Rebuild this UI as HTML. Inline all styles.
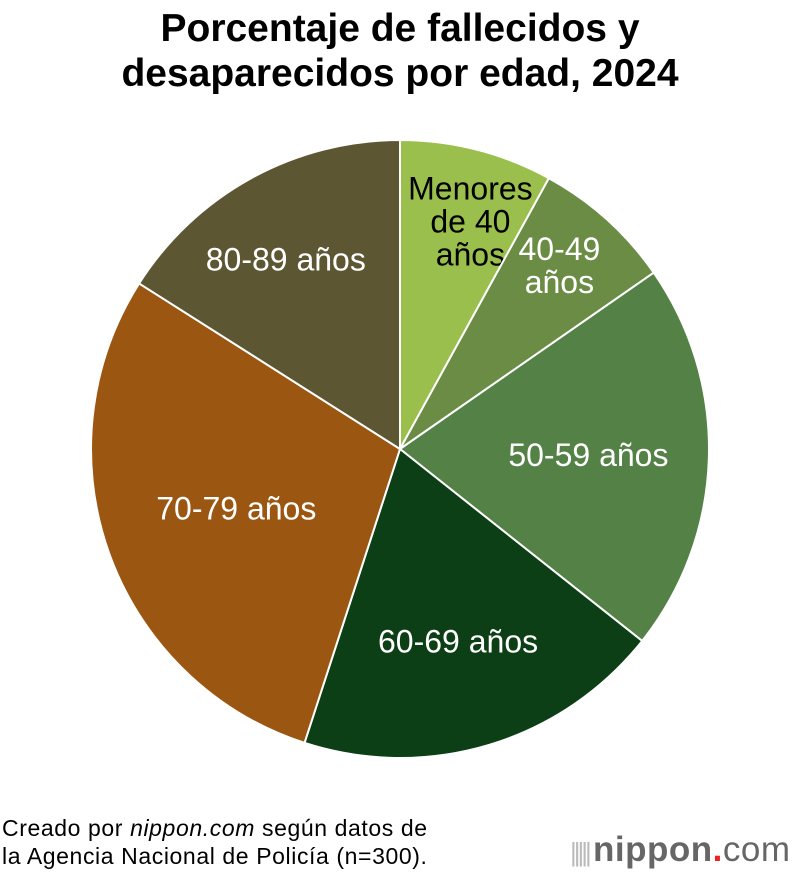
<!DOCTYPE html>
<html><head><meta charset="utf-8"><style>
body{margin:0;background:#fff;width:800px;height:872px;overflow:hidden;font-family:"Liberation Sans",sans-serif;position:relative}
#title{position:absolute;top:6px;left:0;width:800px;text-align:center;font-weight:bold;font-size:39px;line-height:45px;color:#000}
#src{position:absolute;left:2px;top:814px;font-size:23px;line-height:28px;color:#000;letter-spacing:0.6px}
#logo{position:absolute;left:570px;top:830px;font-size:35px;color:#666;font-weight:bold;letter-spacing:0.5px}
</style></head><body>
<div id="title">Porcentaje de fallecidos y<br>desaparecidos por edad, 2024</div>
<svg id="pie" width="800" height="872" style="position:absolute;left:0;top:0"></svg>
<div id="src">Creado por <i>nippon.com</i> según datos de<br>la Agencia Nacional de Policía (n=300).</div>
<div id="logo"><span style="font-weight:normal;color:#bbb;font-size:26px;letter-spacing:-3px">||||| </span>nippon<span style="color:#e22">.</span><span style="font-weight:normal">com</span></div>
<script>
const categories=["Menores de 40 años","40-49 años","50-59 años","60-69 años","70-79 años","80-89 años"];
const values=[24,22,61,58,87,48];
const colors=["#9bbf4c","#6a8c45","#548145","#0c3f15","#9b5611","#5c5633"];
const labelLines=[["Menores","de 40","años"],["40-49","años"],["50-59 años"],["60-69 años"],["70-79 años"],["80-89 años"]];
const labelR=[0.76,0.8,0.61,0.65,0.57,0.7];
const labelDx=[12,-6,0,0,2,-10];
const cx=400,cy=449,R=309;
const svg=document.getElementById('pie');
const NS="http://www.w3.org/2000/svg";
const total=values.reduce((a,b)=>a+b,0);
function pt(a,r){return [cx+r*Math.sin(a),cy-r*Math.cos(a)];}
let a0=0;
values.forEach((v,i)=>{
  const a1=a0+v/total*2*Math.PI;
  const p0=pt(a0,R),p1=pt(a1,R);
  const path=document.createElementNS(NS,'path');
  path.setAttribute('d',`M${cx},${cy}L${p0[0]},${p0[1]}A${R},${R} 0 ${a1-a0>Math.PI?1:0} 1 ${p1[0]},${p1[1]}Z`);
  path.setAttribute('fill',colors[i]);path.setAttribute('stroke','#fff');path.setAttribute('stroke-width','2');
  
  
  svg.appendChild(path);
  const m=(a0+a1)/2,lp=pt(m,R*labelR[i]);
  const t=document.createElementNS(NS,'text');
  
  
  t.setAttribute('font-size','32');t.setAttribute('fill',i==0?'#000':'#fff');
  t.setAttribute('text-anchor','middle');t.setAttribute('font-family','Liberation Sans, sans-serif');
  const lines=labelLines[i],lh=33;
  lines.forEach((s,k)=>{const ts=document.createElementNS(NS,'tspan');ts.setAttribute('x',lp[0]+labelDx[i]);ts.setAttribute('y',lp[1]+11+(k-(lines.length-1)/2)*lh);ts.textContent=s;t.appendChild(ts);});
  svg.appendChild(t);
  a0=a1;
});
</script>
</body></html>
